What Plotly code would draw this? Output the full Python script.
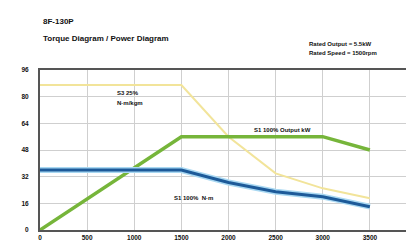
import plotly.graph_objects as go

# data
rpm_peak = [0, 1500, 2000, 2500, 3000, 3500]
torque_peak = [87, 87, 56, 34, 25, 19]
rpm_s1 = [0, 1500, 2000, 2500, 3000, 3500]
torque_s1 = [36, 36, 28.5, 23, 20, 14]
rpm_pw = [0, 1500, 3000, 3500]
power = [0, 56, 56, 48]
x_ticks = [0, 500, 1000, 1500, 2000, 2500, 3000, 3500, 4000]
y_ticks = [0, 16, 32, 48, 64, 80, 96]

T, B, L, R = 62, 19, 32, 3
PH = 241 - T - B
PW = 414 - L - R

fig = go.Figure()
fig.add_trace(go.Scatter(x=rpm_peak, y=torque_peak, mode="lines",
                         line=dict(color="#f2e49a", width=2), hoverinfo="skip"))
fig.add_trace(go.Scatter(x=rpm_pw, y=power, mode="lines",
                         line=dict(color="#76b53a", width=3.5), hoverinfo="skip"))
fig.add_trace(go.Scatter(x=rpm_s1, y=torque_s1, mode="lines",
                         line=dict(color="#a9d8f2", width=6), hoverinfo="skip"))
fig.add_trace(go.Scatter(x=rpm_s1, y=torque_s1, mode="lines",
                         line=dict(color="#1d5a99", width=3), hoverinfo="skip"))

F = "Liberation Sans"
fig.update_layout(
    width=414, height=241, showlegend=False,
    margin=dict(l=L, r=R, t=T, b=B),
    paper_bgcolor="white", plot_bgcolor="white",
    font=dict(family=F, color="#111", size=7),
    xaxis=dict(range=[0, 4000], tickvals=x_ticks, ticktext=[f"<b>{v}</b>" for v in x_ticks],
               showgrid=True, gridcolor="#cfcfcf", gridwidth=1, zeroline=False,
               showline=True, linecolor="#555", linewidth=2, mirror=True,
               ticks="", tickfont=dict(size=6.5, family=F)),
    yaxis=dict(range=[0, 96], tickvals=y_ticks, ticktext=[f"<b>{v}</b>" for v in y_ticks],
               showgrid=True, gridcolor="#cfcfcf", gridwidth=1, zeroline=False,
               showline=True, linecolor="#555", linewidth=2, mirror=True,
               ticks="", tickfont=dict(size=6.5, family=F), ticklabelstandoff=8),
)

ann = [
    dict(text="<b>8F-130P</b>", x=33, y=13, size=8),
    dict(text="<b>Torque Diagram / Power Diagram</b>", x=33, y=31, size=8),
    dict(text="<b>Rated Output = 5.5kW</b>", x=300, y=36, size=6),
    dict(text="<b>Rated Speed = 1500rpm</b>", x=300, y=45, size=6),
]
for a in ann:
    fig.add_annotation(text=a["text"], x=(a["x"] - L) / PW, y=(241 - B - a["y"]) / PH,
                       xref="paper", yref="paper",
                       showarrow=False, xanchor="left", yanchor="middle",
                       font=dict(size=a["size"], family=F, color="#111"))

labels = [
    dict(text="<b>S3 25%</b>", x=800, y=82),
    dict(text="<b>N·m/kgm</b>", x=800, y=76),
    dict(text="<b>S1 100% Output kW</b>", x=2250, y=60),
    dict(text="<b>S1 100%  N·m</b>", x=1400, y=19),
]
for l in labels:
    fig.add_annotation(text=l["text"], x=l["x"], y=l["y"], xref="x", yref="y",
                       showarrow=False, xanchor="left", yanchor="middle",
                       font=dict(size=6, family=F, color="#111"))

fig.write_html("out.html")
